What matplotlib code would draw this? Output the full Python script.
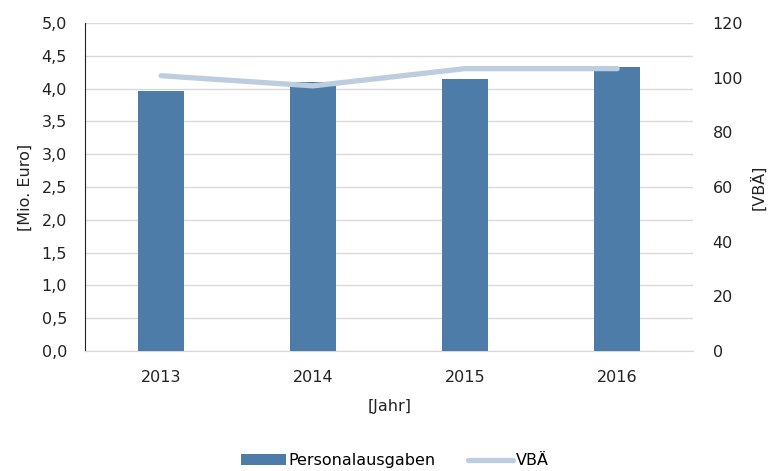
import matplotlib
matplotlib.use("Agg")
import matplotlib.pyplot as plt
from matplotlib.ticker import FuncFormatter

years = ['2013', '2014', '2015', '2016']
personalausgaben = [3.97, 4.10, 4.15, 4.33]
vbae = [100.7, 97.0, 103.3, 103.3]

plt.rcParams['font.family'] = ['DejaVu Sans']
FS = 11.5

fig = plt.figure(figsize=(7.74, 4.71), dpi=100)
ax = fig.add_axes([0.110, 0.2548, 0.7855, 0.6964])
ax2 = ax.twinx()

x = range(len(years))
ax.bar(x, personalausgaben, width=0.3, color='#4e7ca8', label='Personalausgaben', zorder=3)
ax2.plot(x, vbae, color='#bccde0', lw=3.8, solid_capstyle='round', label='VBÄ', zorder=4)

ax.set_ylim(0, 5)
ax.set_yticks([i * 0.5 for i in range(11)])
ax.yaxis.set_major_formatter(FuncFormatter(lambda v, p: f"{v:.1f}".replace('.', ',')))
ax2.set_ylim(0, 120)
ax2.set_yticks(range(0, 121, 20))
ax.set_xlim(-0.5, 3.5)
ax.set_xticks(list(x))
ax.set_xticklabels(years)

ax.grid(axis='y', color='#d9d9d9', lw=1, zorder=0)
ax.set_axisbelow(True)

for a in (ax, ax2):
    a.spines['top'].set_visible(False)
    a.spines['right'].set_visible(False)
    a.tick_params(labelsize=FS, colors='#222222', length=0)
ax2.spines['left'].set_visible(False)
ax2.spines['bottom'].set_visible(False)
ax.spines['left'].set_color('#222222')
ax.spines['bottom'].set_color('#d9d9d9')
ax.tick_params(axis='y', pad=13)
ax2.tick_params(axis='y', pad=14)
ax.tick_params(axis='x', pad=14)

ax.set_ylabel('[Mio. Euro]', fontsize=FS, color='#222222', labelpad=6)
ax2.set_ylabel('[VBÄ]', fontsize=FS, color='#222222', labelpad=5)
ax.set_xlabel('[Jahr]', fontsize=FS, color='#222222', labelpad=10)

h1, l1 = ax.get_legend_handles_labels()
h2, l2 = ax2.get_legend_handles_labels()
fig.legend(h1 + h2, l1 + l2, loc='center', bbox_to_anchor=(0.51, 0.022), ncol=2,
           frameon=False, fontsize=FS, handlelength=2.8, handleheight=0.6,
           columnspacing=2.0, handletextpad=0.2)

fig.savefig('out.png', dpi=100)
